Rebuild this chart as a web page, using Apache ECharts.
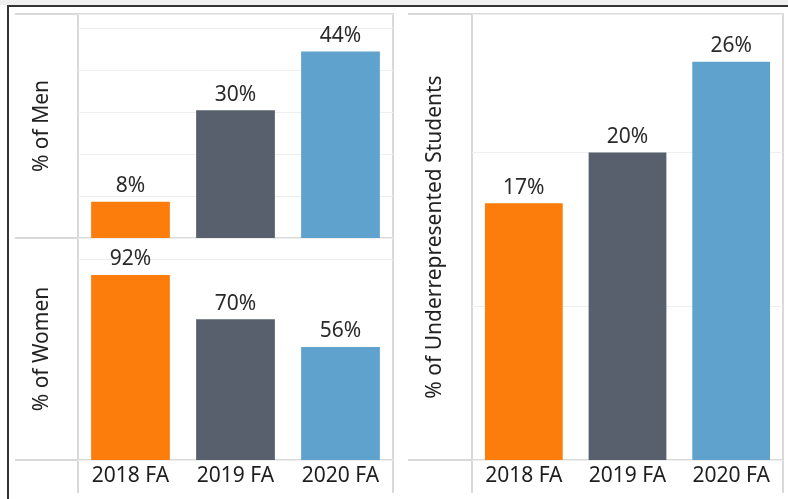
<!DOCTYPE html>
<html>
<head>
<meta charset="utf-8">
<script src="https://cdn.jsdelivr.net/npm/echarts@6/dist/echarts.min.js"></script>
<style>
  html, body { margin: 0; padding: 0; background: #fff; }
  #chart { width: 788px; height: 499px; }
</style>
</head>
<body>
<div id="chart"></div>
<script>
// 数据
const terms = ['2018 FA', '2019 FA', '2020 FA'];
const menPct = [8.6, 30.4, 44.4];
const menLabels = ['8%', '30%', '44%'];
const womenPct = [92, 70, 56.2];
const womenLabels = ['92%', '70%', '56%'];
const urmPct = [16.7, 20, 25.9];
const urmLabels = ['17%', '20%', '26%'];

const barColors = ['#fc7d0b', '#57606c', '#5fa2ce'];
const FONT = '"Noto Sans", sans-serif';
const frameColor = '#d9d9d9';
const gridColor = '#eeeeee';

const chart = echarts.init(document.getElementById('chart'));

// 面板边框线
const line = (x1, y1, x2, y2, color, w) => ({
  type: 'line',
  silent: true,
  shape: {x1, y1, x2, y2},
  style: {stroke: color || frameColor, lineWidth: w || 2}
});

const barSeries = (xi, values, labels) => ({
  type: 'bar',
  xAxisIndex: xi,
  yAxisIndex: xi,
  barWidth: '75%',
  data: values.map((v, i) => ({value: v, itemStyle: {color: barColors[i]}})),
  label: {
    show: true,
    position: 'top',
    distance: 5,
    fontFamily: FONT,
    fontSize: 21,
    color: '#2a2a2a',
    formatter: p => labels[p.dataIndex]
  }
});

const xAxisBase = (gi, showLabel) => ({
  type: 'category',
  gridIndex: gi,
  data: terms,
  axisLine: {show: false},
  axisTick: {show: false},
  axisLabel: {
    show: showLabel,
    margin: 6,
    fontFamily: FONT,
    fontSize: 21,
    color: '#1e1e1e'
  }
});

const yAxisBase = (gi, max, interval, name, gap) => ({
  type: 'value',
  gridIndex: gi,
  min: 0,
  max: max,
  interval: interval,
  name: name,
  nameLocation: 'middle',
  nameGap: gap,
  nameTextStyle: {fontFamily: FONT, fontSize: 21, color: '#222'},
  axisLine: {show: false},
  axisTick: {show: false},
  axisLabel: {show: false},
  splitLine: {lineStyle: {color: gridColor, width: 1}}
});

const option = {
  backgroundColor: '#fff',
  animation: false,
  grid: [
    {left: 78, top: 14, width: 315, height: 224},
    {left: 78, top: 238, width: 315, height: 222},
    {left: 472, top: 14, width: 311, height: 446}
  ],
  xAxis: [xAxisBase(0, false), xAxisBase(1, true), xAxisBase(2, true)],
  yAxis: [
    yAxisBase(0, 53.3, 10, '% of Men', 25),
    yAxisBase(1, 110.4, 100, '% of Women', 25),
    yAxisBase(2, 29, 10, '% of Underrepresented Students', 26)
  ],
  series: [
    barSeries(0, menPct, menLabels),
    barSeries(1, womenPct, womenLabels),
    barSeries(2, urmPct, urmLabels)
  ],
  graphic: [
    {type: 'rect', silent: true, shape: {x: 0, y: 0, width: 788, height: 5}, style: {fill: '#efefef'}},
    line(7, 6, 788, 6, '#333', 2),
    line(8, 5, 8, 499, '#333', 2),
    // 左侧面板
    line(15, 14, 394, 14),
    line(15, 238, 394, 238),
    line(15, 460, 394, 460),
    line(78, 14, 78, 493),
    line(393, 14, 393, 493),
    // 右侧面板
    line(408, 14, 784, 14),
    line(408, 460, 784, 460),
    line(472, 14, 472, 493),
    line(783, 14, 783, 493)
  ]
};

chart.setOption(option);
</script>
</body>
</html>
